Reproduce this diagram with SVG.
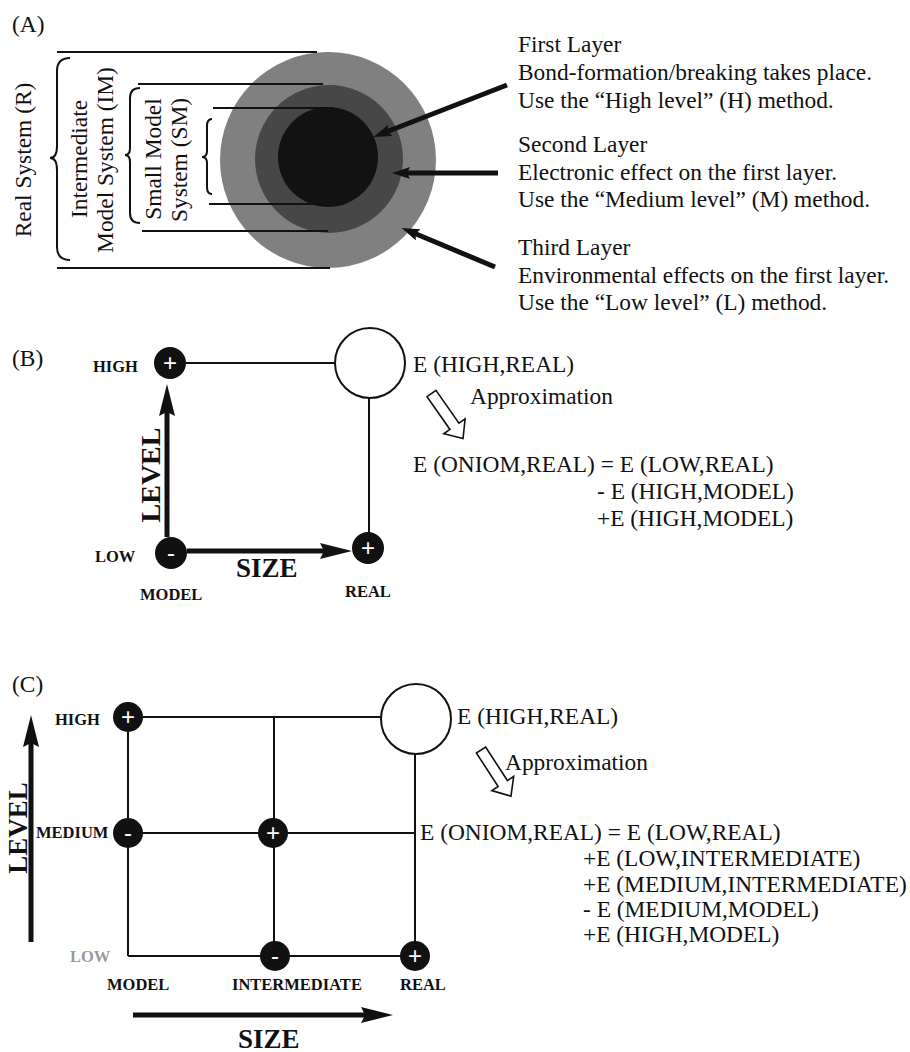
<svg xmlns="http://www.w3.org/2000/svg" width="910" height="1052" viewBox="0 0 910 1052">
<style>
.t{font-family:"Liberation Serif","Times New Roman",serif;font-size:23.4px;fill:#111}
.lab{font-family:"Liberation Serif","Times New Roman",serif;font-size:16.5px;font-weight:bold;fill:#111}
.ax{font-family:"Liberation Serif","Times New Roman",serif;font-size:28px;font-weight:bold;fill:#111}
.sg{font-family:"Liberation Sans",Arial,sans-serif;font-size:24px;fill:#fff;text-anchor:middle}
.ln{stroke:#111;stroke-width:2;fill:none}
.br{stroke:#111;stroke-width:2;fill:none}
.thick{stroke:#111;stroke-width:5;fill:none}
.axl{stroke:#111;stroke-width:5;fill:none}
.dot{fill:#111}
.open{fill:#fff;stroke:#111;stroke-width:2}
.hollow{fill:#fff;stroke:#111;stroke-width:1.6;stroke-linejoin:miter}
</style>
<defs>
<marker id="ah" viewBox="0 0 18 12" refX="10" refY="6" markerWidth="18" markerHeight="12" markerUnits="userSpaceOnUse" orient="auto">
<path d="M0,0 L18,6 L0,12 L3,6 z" fill="#111"/>
</marker>
<marker id="axh" viewBox="0 0 32 16" refX="16" refY="8" markerWidth="32" markerHeight="16" markerUnits="userSpaceOnUse" orient="auto">
<path d="M0,0 L32,8 L0,16 L4,8 z" fill="#111"/>
</marker>
<polygon id="hollowArrow" points="0,-5.5 40,-5.5 40,-13 55,0 40,13 40,5.5 0,5.5"/>
</defs>
<rect width="910" height="1052" fill="#fff"/>

<!-- Panel A -->
<text class="t" x="12" y="32">(A)</text>
<g id="layers">
<circle cx="328" cy="160" r="108" fill="#808080"/>
<circle cx="329" cy="159" r="74" fill="#474747"/>
<circle cx="328" cy="157" r="50" fill="#121212"/>
</g>
<g id="layer-lines">
<line class="ln" x1="57" y1="52" x2="317" y2="52"/>
<line class="ln" x1="57" y1="268" x2="330" y2="268"/>
<line class="ln" x1="138" y1="84" x2="323" y2="84"/>
<line class="ln" x1="142" y1="231" x2="328" y2="231"/>
<line class="ln" x1="213" y1="108" x2="333" y2="108"/>
<line class="ln" x1="209" y1="204" x2="330" y2="204"/>
</g>
<g id="real-system">
<path class="br" d="M70,58 Q57,58 57,71 L57,146 Q57,158 50,158 Q57,158 57,170 L57,247 Q57,260 70,260"/>
<text class="t" text-anchor="middle" transform="translate(31,160) rotate(-90)">Real System (R)</text>
</g>
<g id="intermediate-system">
<path class="br" d="M140,88 Q130,88 130,98 L130,148 Q130,155 125,155 Q130,155 130,162 L130,213 Q130,223 140,223" stroke="#555"/>
<text class="t" text-anchor="middle" transform="translate(87,159) rotate(-90)">Intermediate</text>
<text class="t" text-anchor="middle" transform="translate(113,160) rotate(-90)">Model System (IM)</text>
</g>
<g id="small-system">
<path class="br" d="M212,119 Q207,119 207,126 L207,151 Q207,157 202,157 Q207,157 207,163 L207,187 Q207,194 212,194"/>
<text class="t" text-anchor="middle" transform="translate(161,159) rotate(-90)">Small Model</text>
<text class="t" text-anchor="middle" transform="translate(187,160) rotate(-90)">System (SM)</text>
</g>
<g id="first-layer">
<text class="t" x="518" y="52">First Layer</text>
<text class="t" x="518" y="80">Bond-formation/breaking takes place.</text>
<text class="t" x="518" y="108">Use the “High level” (H) method.</text>
</g>
<g id="second-layer">
<text class="t" x="518" y="152">Second Layer</text>
<text class="t" x="518" y="180">Electronic effect on the first layer.</text>
<text class="t" x="518" y="207">Use the “Medium level” (M) method.</text>
</g>
<g id="third-layer">
<text class="t" x="518" y="255">Third Layer</text>
<text class="t" x="518" y="283">Environmental effects on the first layer.</text>
<text class="t" x="518" y="310">Use the “Low level” (L) method.</text>
</g>
<g id="connectors-A">
<line class="thick" x1="507" y1="85" x2="381" y2="134" marker-end="url(#ah)"/>
<line class="thick" x1="498" y1="173" x2="400" y2="173" marker-end="url(#ah)"/>
<line class="thick" x1="495" y1="267" x2="409" y2="231" marker-end="url(#ah)"/>
</g>

<!-- Panel B -->
<text class="t" x="12" y="366">(B)</text>
<g id="connectors-B">
<line class="ln" x1="186" y1="363" x2="335" y2="363"/>
<line class="ln" x1="369" y1="398" x2="369" y2="533"/>
<line class="axl" x1="167" y1="537" x2="167" y2="400" marker-end="url(#axh)"/>
<line class="axl" x1="187" y1="551" x2="336" y2="551" marker-end="url(#axh)"/>
</g>
<g id="b-high-model">
<circle class="dot" cx="170" cy="363" r="16"/>
<text class="sg" x="170" y="371">+</text>
<text class="lab" x="93" y="372">HIGH</text>
</g>
<g id="b-low-model">
<circle class="dot" cx="171" cy="553" r="16"/>
<text class="sg" x="171" y="561">-</text>
<text class="lab" x="95" y="562">LOW</text>
<text class="lab" x="140" y="600">MODEL</text>
</g>
<g id="b-low-real">
<circle class="dot" cx="368" cy="548" r="16"/>
<text class="sg" x="368" y="556">+</text>
<text class="lab" x="345" y="597">REAL</text>
</g>
<g id="b-high-real">
<circle class="open" cx="370" cy="363" r="35"/>
<text class="t" x="413" y="372">E (HIGH,REAL)</text>
</g>
<g id="b-axes">
<text class="ax" text-anchor="middle" transform="translate(160,475) rotate(-90)">LEVEL</text>
<text class="ax" x="236" y="577" style="font-size:27px">SIZE</text>
</g>
<g id="b-approx">
<use href="#hollowArrow" class="hollow" transform="translate(431.5,393.5) rotate(55)"/>
<text class="t" x="470" y="404">Approximation</text>
</g>
<g id="b-formula">
<text class="t" x="413" y="472">E (ONIOM,REAL) = E (LOW,REAL)</text>
<text class="t" x="597" y="499">- E (HIGH,MODEL)</text>
<text class="t" x="597" y="526">+E (HIGH,MODEL)</text>
</g>

<!-- Panel C -->
<text class="t" x="12" y="692">(C)</text>
<g id="connectors-C">
<line class="ln" x1="128" y1="717" x2="381" y2="717"/>
<line class="ln" x1="274" y1="717" x2="274" y2="956"/>
<line class="ln" x1="128" y1="717" x2="128" y2="956"/>
<line class="ln" x1="128" y1="956" x2="415" y2="956"/>
<line class="ln" x1="128" y1="833" x2="415" y2="833"/>
<line class="ln" x1="415" y1="754" x2="415" y2="956"/>
<line class="axl" x1="31" y1="942" x2="31" y2="731" marker-end="url(#axh)"/>
<line class="axl" x1="133" y1="1015" x2="377" y2="1015" marker-end="url(#axh)"/>
</g>
<g id="c-high-model">
<circle class="dot" cx="128" cy="717" r="15"/>
<text class="sg" x="128" y="725">+</text>
<text class="lab" x="55" y="725">HIGH</text>
</g>
<g id="c-medium-model">
<circle class="dot" cx="128" cy="833" r="15"/>
<text class="sg" x="128" y="841">-</text>
<text class="lab" x="36" y="838">MEDIUM</text>
</g>
<g id="c-medium-intermediate">
<circle class="dot" cx="273" cy="833" r="15"/>
<text class="sg" x="273" y="841">+</text>
</g>
<g id="c-low-intermediate">
<circle class="dot" cx="275" cy="956" r="15"/>
<text class="sg" x="275" y="964">-</text>
<text class="lab" x="232" y="990">INTERMEDIATE</text>
</g>
<g id="c-low-real">
<circle class="dot" cx="415" cy="956" r="15"/>
<text class="sg" x="415" y="964">+</text>
<text class="lab" x="400" y="990">REAL</text>
</g>
<g id="c-labels">
<text class="lab" x="70" y="962" style="fill:#9a9a9a">LOW</text>
<text class="lab" x="107" y="990">MODEL</text>
<text class="ax" text-anchor="middle" transform="translate(27,828) rotate(-90)" style="font-size:27px">LEVEL</text>
<text class="ax" x="238" y="1048" style="font-size:27px">SIZE</text>
</g>
<g id="c-high-real">
<circle class="open" cx="416" cy="719" r="35"/>
<text class="t" x="457" y="724">E (HIGH,REAL)</text>
</g>
<g id="c-approx">
<use href="#hollowArrow" class="hollow" transform="translate(481,750) rotate(57)"/>
<text class="t" x="505" y="770">Approximation</text>
</g>
<g id="c-formula">
<text class="t" x="420" y="840">E (ONIOM,REAL) = E (LOW,REAL)</text>
<text class="t" x="583" y="866">+E (LOW,INTERMEDIATE)</text>
<text class="t" x="583" y="892">+E (MEDIUM,INTERMEDIATE)</text>
<text class="t" x="583" y="917">- E (MEDIUM,MODEL)</text>
<text class="t" x="583" y="942">+E (HIGH,MODEL)</text>
</g>
</svg>
